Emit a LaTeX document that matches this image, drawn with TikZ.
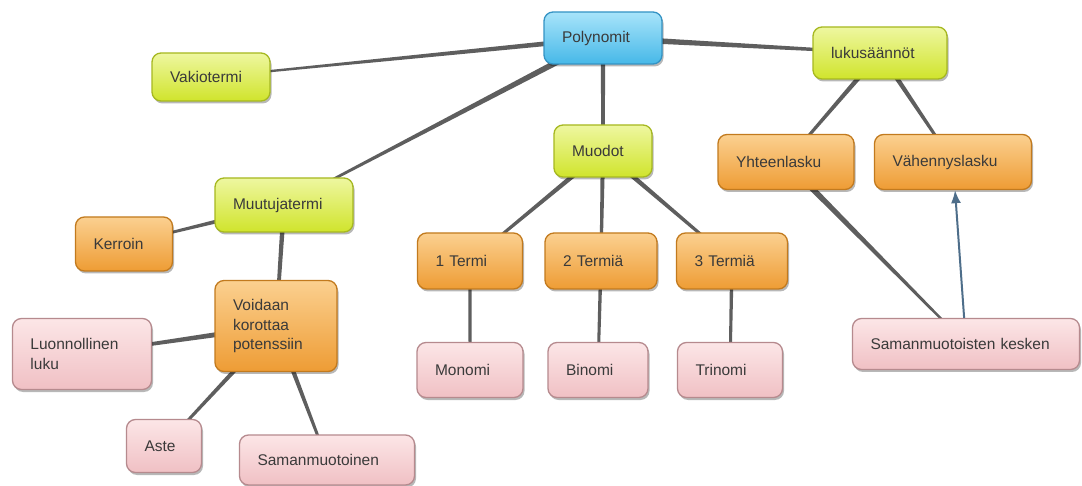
\documentclass[tikz,border=0pt]{standalone}
\usepackage{fontspec}
\setmainfont{Liberation Sans}
\usetikzlibrary{calc,shadows,arrows.meta}
\pgfdeclarelayer{background}
\pgfsetlayers{background,main}

\definecolor{edgecol}{HTML}{5E5E5E}
\definecolor{arrowcol}{HTML}{4E6E8A}
\definecolor{txt}{HTML}{3A3A3A}
% box palettes: border / light top / middle / base
\definecolor{blueB}{HTML}{3493C4}\definecolor{blueT}{HTML}{A8E4FA}\definecolor{blueM}{HTML}{5CC8F2}\definecolor{blueD}{HTML}{46B8E8}
\definecolor{yelB}{HTML}{A6B820}\definecolor{yelT}{HTML}{EEF7A0}\definecolor{yelM}{HTML}{DCEE40}\definecolor{yelD}{HTML}{D0E42C}
\definecolor{orB}{HTML}{C27A1E}\definecolor{orT}{HTML}{FBD090}\definecolor{orM}{HTML}{F5AA48}\definecolor{orD}{HTML}{EE9C34}
\definecolor{piB}{HTML}{B68A8E}\definecolor{piT}{HTML}{FCE6E7}\definecolor{piM}{HTML}{F6CFD2}\definecolor{piD}{HTML}{F0C0C4}

\tikzset{
  box/.style={rounded corners=9pt, line width=1.3pt, inner xsep=18pt, inner ysep=0pt,
    align=left, text=txt, font=\fontsize{15.5}{19.5}\selectfont,
    drop shadow={shadow xshift=1.5pt, shadow yshift=-2.5pt, opacity=0.28, fill=black}},
  bluebox/.style={box, draw=blueB, top color=blueT, middle color=blueM, bottom color=blueD},
  yelbox/.style={box, draw=yelB, top color=yelT, middle color=yelM, bottom color=yelD},
  orbox/.style={box, draw=orB, top color=orT, middle color=orM, bottom color=orD},
  pibox/.style={box, draw=piB, top color=piT, middle color=piM, bottom color=piD},
}

% tapered connector: half width #3 at node #1, half width #4 at node #2
\newcommand\taperlink[4]{%
  \fill[edgecol] ($(#1)!#3!90:(#2)$) -- ($(#2)!#4!-90:(#1)$) -- ($(#2)!#4!90:(#1)$) -- ($(#1)!#3!-90:(#2)$) -- cycle;}

\begin{document}
\begin{tikzpicture}[x=1pt,y=-1pt]
\useasboundingbox (0,0) rectangle (1082,486);

% concepts
\node[bluebox, minimum width=118pt, minimum height=52pt, text width=82pt] (poly) at (603,38) {Polynomit};
\node[yelbox, minimum width=118pt, minimum height=48pt, text width=82pt] (vaki) at (211,77) {Vakiotermi};
\node[yelbox, minimum width=134pt, minimum height=52pt, text width=98pt] (luku) at (880,53) {lukusäännöt};
\node[yelbox, minimum width=98pt, minimum height=52pt, text width=62pt] (muodot) at (603,151) {Muodot};
\node[orbox, minimum width=136pt, minimum height=55pt, text width=100pt] (yht) at (786,162) {Yhteenlasku};
\node[orbox, minimum width=157pt, minimum height=55pt, text width=121pt] (vah) at (953,162) {Vähennyslasku};
\node[yelbox, minimum width=138pt, minimum height=54pt, text width=102pt] (muut) at (284,205) {Muutujatermi};
\node[orbox, minimum width=97pt, minimum height=54pt, text width=61pt] (kerr) at (124,244) {Kerroin};
\node[orbox, minimum width=105pt, minimum height=56pt, text width=69pt] (t1) at (470,261) {1 Termi};
\node[orbox, minimum width=112pt, minimum height=56pt, text width=76pt] (t2) at (601,261) {2 Termiä};
\node[orbox, minimum width=111pt, minimum height=56pt, text width=75pt] (t3) at (732,261) {3 Termiä};
\node[orbox, minimum width=122pt, minimum height=91pt, text width=86pt] (voi) at (276,326) {Voidaan\\korottaa\\potenssiin};
\node[pibox, minimum width=139pt, minimum height=71pt, text width=103pt] (luon) at (82,354) {Luonnollinen\\luku};
\node[pibox, minimum width=106pt, minimum height=55pt, text width=70pt] (mono) at (470,370) {Monomi};
\node[pibox, minimum width=100pt, minimum height=55pt, text width=64pt] (bino) at (598,370) {Binomi};
\node[pibox, minimum width=105pt, minimum height=55pt, text width=69pt] (trino) at (730,370) {Trinomi};
\node[pibox, minimum width=227pt, minimum height=51pt, text width=191pt] (samk) at (966,344) {Samanmuotoisten kesken};
\node[pibox, minimum width=75pt, minimum height=53pt, text width=39pt] (aste) at (164,446) {Aste};
\node[pibox, minimum width=175pt, minimum height=50pt, text width=139pt] (samm) at (327,460) {Samanmuotoinen};

% connectors, under the boxes
\begin{pgfonlayer}{background}
\fill[white] (0,0) rectangle (1082,486);
\taperlink{poly}{vaki}{2.6pt}{0.9pt}
\taperlink{poly}{muut}{3.2pt}{1.0pt}
\taperlink{poly}{luku}{3.2pt}{1.2pt}
\taperlink{poly}{muodot}{2.4pt}{1.6pt}
\taperlink{luku}{yht}{2.6pt}{1.2pt}
\taperlink{luku}{vah}{2.6pt}{1.2pt}
\taperlink{muodot}{t1}{2.6pt}{1.2pt}
\taperlink{muodot}{t2}{2.2pt}{1.4pt}
\taperlink{muodot}{t3}{2.6pt}{1.2pt}
\taperlink{t1}{mono}{1.8pt}{1.4pt}
\taperlink{t2}{bino}{1.8pt}{1.4pt}
\taperlink{t3}{trino}{1.8pt}{1.4pt}
\taperlink{muut}{kerr}{2.6pt}{0.9pt}
\taperlink{muut}{voi}{2.4pt}{1.6pt}
\taperlink{voi}{luon}{3.0pt}{1.2pt}
\taperlink{voi}{aste}{2.6pt}{1.2pt}
\taperlink{voi}{samm}{2.6pt}{1.2pt}
\taperlink{yht}{samk}{3.2pt}{0.9pt}
\end{pgfonlayer}
\draw[arrowcol, line width=2pt, -{Latex[length=13pt,width=10pt]}] (samk) -- (vah);
\end{tikzpicture}
\end{document}
